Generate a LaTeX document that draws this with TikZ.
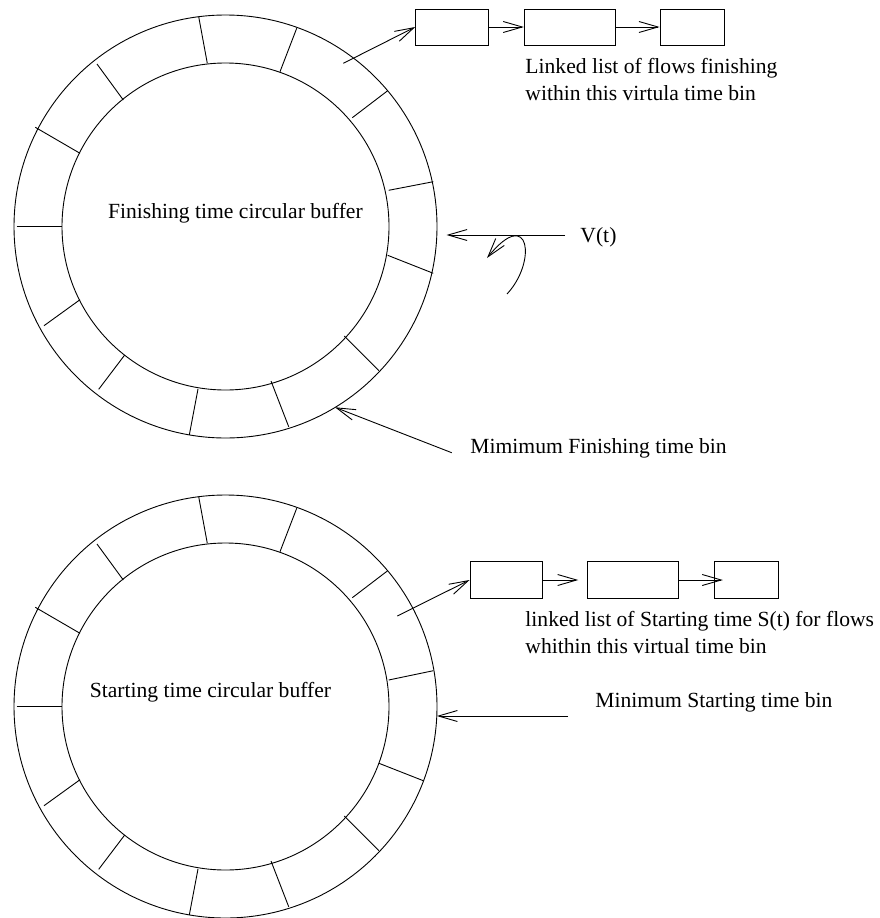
\documentclass[tikz,border=0pt]{standalone}
\usepackage{fontspec}
\setmainfont{Liberation Serif}
\usetikzlibrary{arrows.meta,calc}
\begin{document}
\begin{tikzpicture}[x=1pt,y=-1pt,line width=0.9pt,
  tip/.style={-{Straight Barb[length=19pt,width=11pt,line width=0.9pt]}},
  cell/.style={draw,inner sep=0pt,minimum height=36pt},
  lbl/.style={font=\fontsize{21.6}{26.7}\selectfont,inner sep=0pt,anchor=base west}]
\useasboundingbox (0,0) rectangle (879,918);
% ---------- top ring ----------
\coordinate (c1) at (225.5,226.5);
\draw (c1) circle[radius=211.5pt];
\draw (c1) circle[radius=163.5pt];
\draw (198.7,16.7) -- (207.3,63.3);
\draw (296.7,28.3) -- (280,71.7);
\draw (387.7,90.7) -- (352.3,117.7);
\draw (433.3,181.7) -- (388.7,190.3);
\draw (433.3,273.3) -- (387.7,255.3);
\draw (379,370.7) -- (344.3,336);
\draw (288.7,426.7) -- (271,381);
\draw (189.3,435) -- (198,389);
\draw (98.7,389.3) -- (124.7,355);
\draw (44,325.7) -- (80,299.7);
\draw (16.7,226.7) -- (62.3,226.7);
\draw (35.3,127.3) -- (80,153.3);
\draw (97,64) -- (123.3,100);
\node[lbl] (ftext) at (107.7,218.3) {Finishing time circular buffer};
% list of top
\node[cell,minimum width=72.6pt] (b1) at (452,27) {};
\node[cell,minimum width=91pt] (b2) at (569.8,27) {};
\node[cell,minimum width=64.3pt] (b3) at (692.2,27) {};
\coordinate (p1) at (343.3,63.3);
\draw[tip] (p1) -- (b1.west);
\draw[tip] (b1.east) -- (b2.west);
\draw[tip] (b2.east) -- (b3.west);
\node[lbl] (l1a) at (525,73.3) {Linked list of flows finishing};
\node[lbl] (l1b) at (525,100) {within this virtula time bin};
% V(t)
\node[lbl] (vt) at (580,242) {V(t)};
\coordinate (vtail) at (565,235);
\coordinate (vtip) at (446.5,235);
\draw[tip] (vtail) -- (vtip);
\coordinate (r1) at (507,294);
\coordinate (r2) at (487,258);
\draw[tip] (r1) .. controls (537,262) and (530,205) .. (r2);
% minimum finishing
\node[lbl] (mf) at (470,453.3) {Mimimum Finishing time bin};
\coordinate (mftail) at (451.7,452.7);
\coordinate (mftip) at (335,407.3);
\draw[tip] (mftail) -- (mftip);
% ---------- bottom ring ----------
\coordinate (c2) at (225.5,706.5);
\draw (c2) circle[radius=211.5pt];
\draw (c2) circle[radius=163.5pt];
\begin{scope}[yshift=-480pt]
\draw (198.7,16.7) -- (207.3,63.3);
\draw (296.7,28.3) -- (280,71.7);
\draw (387.7,90.7) -- (352.3,117.7);
\draw (379,370.7) -- (344.3,336);
\draw (288.7,426.7) -- (271,381);
\draw (189.3,435) -- (198,389);
\draw (98.7,389.3) -- (124.7,355);
\draw (44,325.7) -- (80,299.7);
\draw (16.7,226.7) -- (62.3,226.7);
\draw (35.3,127.3) -- (80,153.3);
\draw (97,64) -- (123.3,100);
\end{scope}
\draw (433.3,670.7) -- (388.7,680);
\draw (423.3,780.7) -- (379,763.3);
\node[lbl] (stext) at (89.3,697.5) {Starting time circular buffer};
% list of bottom
\node[cell,minimum width=72.7pt,minimum height=36.6pt] (d1) at (506.35,580) {};
\node[cell,minimum width=90.6pt,minimum height=36.6pt] (d2) at (633,580) {};
\node[cell,minimum width=64pt,minimum height=36.6pt] (d3) at (746.3,580) {};
\coordinate (p2) at (397.3,616);
\draw[tip] (p2) -- (d1.west);
\draw[tip] (d1.east) -- ($(d2.west)+(-9,0)$);
\draw[tip] (d2.east) -- ($(d3.west)+(9,0)$);
\node[lbl] (l2a) at (525,626.7) {linked list of Starting time S(t) for flows};
\node[lbl] (l2b) at (525,653.3) {whithin this virtual time bin};
% minimum starting
\node[lbl] (ms) at (595,707) {Minimum Starting time bin};
\coordinate (mstail) at (568,716);
\coordinate (mstip) at (436.8,716);
\draw[tip] (mstail) -- (mstip);
\end{tikzpicture}
\end{document}
